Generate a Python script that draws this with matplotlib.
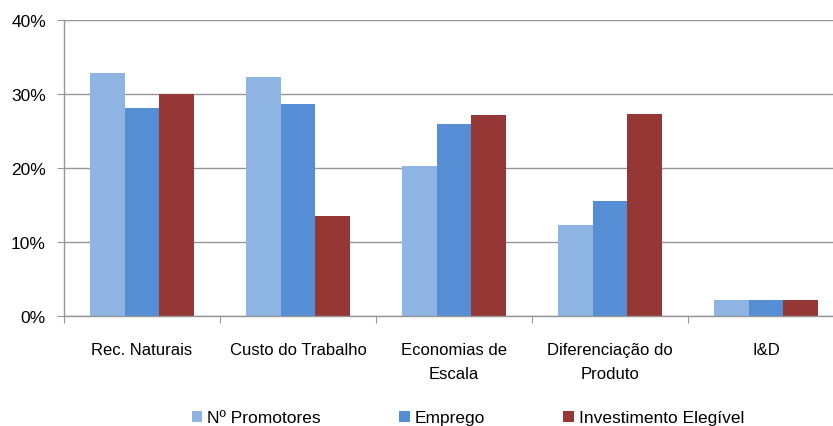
import numpy as np
import matplotlib
matplotlib.use("Agg")
import matplotlib.pyplot as plt
from matplotlib.ticker import PercentFormatter

plt.rcParams['font.family'] = ['Liberation Sans Narrow', 'Liberation Sans', 'DejaVu Sans']

categories = ["Rec. Naturais", "Custo do Trabalho", "Economias de\nEscala",
              "Diferenciação do\nProduto", "I&D"]
series_names = ["Nº Promotores", "Emprego", "Investimento Elegível"]
promotores = [32.8, 32.3, 20.3, 12.3, 2.2]
emprego = [28.1, 28.6, 25.9, 15.5, 2.2]
investimento = [30.0, 13.5, 27.2, 27.3, 2.2]
colors = ["#8EB4E3", "#558ED5", "#953735"]

fig = plt.figure(figsize=(8.33, 4.27), dpi=100)
ax = fig.add_axes([64 / 833, 110 / 427, 780 / 833, 296 / 427])

x = np.arange(len(categories))
w = 1 / 4.5
for i, (vals, name) in enumerate(zip([promotores, emprego, investimento], series_names)):
    ax.bar(x + (i - 1) * w, vals, width=w, color=colors[i], label=name, zorder=2)

ax.set_xlim(-0.5, len(categories) - 0.5)
ax.set_ylim(0, 40)
ax.set_yticks([0, 10, 20, 30, 40])
ax.yaxis.set_major_formatter(PercentFormatter(decimals=0))

ax.set_xticks(np.arange(len(categories) + 1) - 0.5)
ax.set_xticklabels([])
ax.set_xticks(x, minor=True)
ax.set_xticklabels(categories, minor=True, fontsize=12, linespacing=1.75)
ax.tick_params(axis='x', which='minor', length=0, pad=19)
ax.tick_params(axis='x', which='major', length=5, color='#969696', direction='out')
ax.tick_params(axis='y', length=5, color='#969696', labelsize=12.5, pad=8)

ax.grid(axis='y', color='#969696', linewidth=1.0, zorder=0)
ax.set_axisbelow(True)
for s in ['top', 'right']:
    ax.spines[s].set_visible(False)
for s in ['left', 'bottom']:
    ax.spines[s].set_color('#969696')
    ax.spines[s].set_linewidth(1.0)

fig.legend(loc='center', bbox_to_anchor=(468 / 833, 8 / 427), ncol=3, frameon=False,
           fontsize=12.5, handlelength=0.6, handleheight=0.6, handletextpad=0.3,
           columnspacing=4.5)

fig.savefig("out.png", dpi=100)
